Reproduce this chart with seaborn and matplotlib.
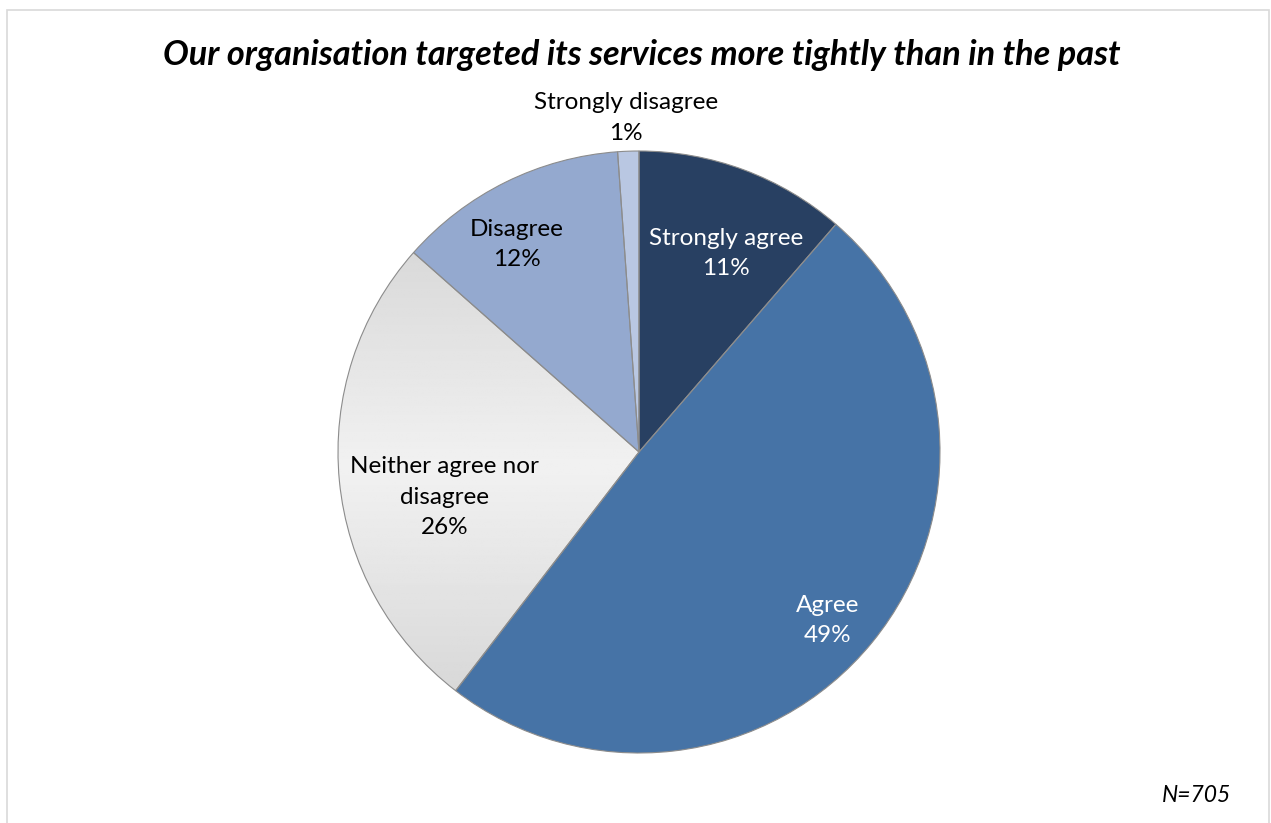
import numpy as np
import matplotlib
matplotlib.use("Agg")
import matplotlib.pyplot as plt
from matplotlib.patches import Rectangle
import seaborn as sns

# Survey responses (counts out of N=705)
categories = ["Strongly agree", "Agree", "Neither agree nor\ndisagree", "Disagree", "Strongly disagree"]
counts = [80, 346, 184, 87, 8]
total_n = 705

sns.set_theme(style="white")
plt.rcParams["font.family"] = ["Lato", "DejaVu Sans"]
plt.rcParams["text.color"] = "black"

colors = sns.color_palette(["#284062", "#4673A6", "#E8E8E8", "#94A9CF", "#B9C7E2"])
text_colors = ["white", "white", "black", "black", "black"]
# label anchor points in pie units (radius 1)
label_xy = [(0.29, 0.66), (0.625, -0.56), (-0.645, -0.15), (-0.405, 0.69), (-0.043, 1.11)]

fig = plt.figure(figsize=(12.71, 8.23), dpi=100)
fig.patch.set_facecolor("white")

# chart-area frame
fig.add_artist(Rectangle((7 / 1271, -0.05), (1269 - 7) / 1271, 1.05 - 10 / 823,
                         transform=fig.transFigure, fill=False, edgecolor="#d9d9d9", linewidth=1.2))

R = 301
cx, cy = 639, 452
ax = fig.add_axes([(cx - R) / 1271, (823 - cy - R) / 823, 2 * R / 1271, 2 * R / 823])

wedges, _ = ax.pie(counts, colors=colors, startangle=90, counterclock=False,
                   wedgeprops=dict(edgecolor="none", linewidth=0))
ax.set_xlim(-1, 1)
ax.set_ylim(-1, 1)
ax.set_aspect("equal")
ax.axis("off")

# vertical grey gradient on the neutral slice
grad = np.concatenate([np.linspace(0, 1, 128), np.linspace(1, 0, 128)])
vals = np.interp(grad, [0, 1], [0.84, 0.945])
img = np.tile(vals[:, None], (1, 4))
gi = ax.imshow(img, cmap="gray", vmin=0, vmax=1, extent=(-1, 0, -0.85, 0.75),
               origin="lower", aspect="auto", zorder=wedges[2].get_zorder() + 0.1)
gi.set_clip_path(wedges[2])

# slice outlines drawn on top
ax.pie(counts, startangle=90, counterclock=False,
       wedgeprops=dict(edgecolor="#8c8c8c", linewidth=0.8, facecolor="none", zorder=3))
ax.set_xlim(-1, 1)
ax.set_ylim(-1, 1)

for cat, c, (x, y), tc in zip(categories, counts, label_xy, text_colors):
    pct = round(100 * c / total_n)
    ax.text(x, y, f"{cat}\n{pct}%", ha="center", va="center", color=tc,
            fontsize=17.5, linespacing=1.55, zorder=5, clip_on=False)

fig.text(642 / 1271, 1 - 55 / 823, "Our organisation targeted its services more tightly than in the past",
         ha="center", va="center", fontsize=24.7, fontweight="bold", fontstyle="italic", color="black")
fig.text(1231 / 1271, 1 - 795 / 823, f"N={total_n}", ha="right", va="center",
         fontsize=16.5, fontstyle="italic", color="black")

fig.savefig("out.png", dpi=100, facecolor="white")
